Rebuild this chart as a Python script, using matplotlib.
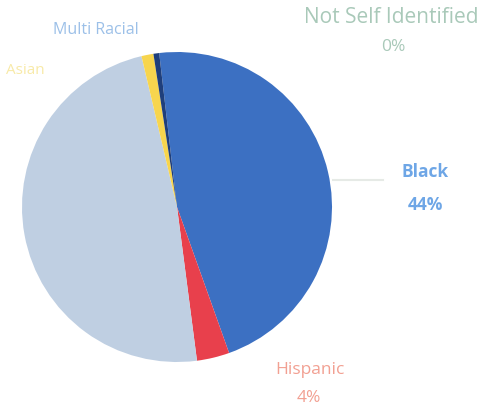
import matplotlib
matplotlib.use("Agg")
import matplotlib.pyplot as plt

# slice values (clockwise from the top)
categories = ["Black", "Hispanic", "White", "Asian", "Multi Racial", "Not Self Identified"]
shares = [46.4, 3.4, 48.4, 1.25, 0.6, 0.0]
pct_labels = ["44%", "4%", "", "", "", "0%"]

slice_colors = ["#3c70c2", "#e8404c", "#bfcfe2", "#f7d54e", "#1f3f7c", "#9fc3b0"]
label_colors = ["#6ea6e6", "#f2a092", "#bfcfe2", "#f8eaa8", "#9cc0e8", "#a9c9b9"]

plt.rcParams['font.family'] = ['Open Sans', 'DejaVu Sans']

W, H = 495, 411
fig = plt.figure(figsize=(W / 100, H / 100), dpi=100)
ax = fig.add_axes([0, 0, 1, 1])

cx, cy, r = 177, H - 207, 155
ax.pie(shares, colors=slice_colors, startangle=96.6, counterclock=False,
       center=(cx, cy), radius=r, frame=True,
       wedgeprops=dict(linewidth=0))
ax.set_xlim(0, W)
ax.set_ylim(0, H)
ax.set_aspect('equal')
ax.axis('off')

# leader line for Black
ax.plot([333, 383], [H - 180, H - 180], color="#e6eae6", lw=1.5)

# data labels
ax.text(425, H - 172, categories[0], color=label_colors[0], fontsize=12.5,
        fontweight='bold', ha='center', va='center')
ax.text(425, H - 205, pct_labels[0], color=label_colors[0], fontsize=12.5,
        fontweight='bold', ha='center', va='center')

ax.text(310, H - 370, categories[1], color=label_colors[1], fontsize=12.5,
        ha='center', va='center')
ax.text(309, H - 398, pct_labels[1], color=label_colors[1], fontsize=12.5,
        ha='center', va='center')

ax.text(391, H - 18, categories[5], color=label_colors[5], fontsize=15,
        ha='center', va='center')
ax.text(393, H - 47, pct_labels[5], color=label_colors[5], fontsize=12.5,
        ha='center', va='center')

ax.text(96, H - 30, categories[4], color=label_colors[4], fontsize=11.5,
        ha='center', va='center')
ax.text(25, H - 71, categories[3], color=label_colors[3], fontsize=11,
        ha='center', va='center')

fig.savefig("out.png", dpi=100, facecolor="white")
